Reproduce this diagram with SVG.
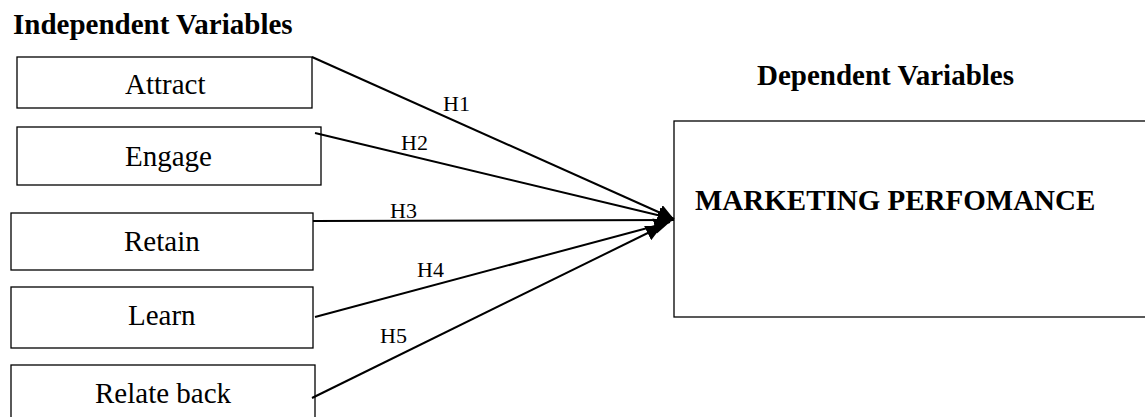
<svg xmlns="http://www.w3.org/2000/svg" width="1145" height="417" viewBox="0 0 1145 417">
<defs>
<style>
.box{fill:#fff;stroke:#000;stroke-width:1.3}
.t{font-family:"Liberation Serif","Times New Roman",serif;font-size:29px;fill:#000}
.b{font-weight:bold}
.h{font-family:"Liberation Serif","Times New Roman",serif;font-size:22px;fill:#000}
.c{stroke:#000;stroke-width:2;fill:none;marker-end:url(#ah)}
</style>
<marker id="ah" markerUnits="userSpaceOnUse" markerWidth="17" markerHeight="16" refX="16" refY="8" orient="auto">
<path d="M0,0 L16,8 L0,16 Z" fill="#000"/>
</marker>
</defs>
<rect width="1145" height="417" fill="#fff"/>
<text class="t b" x="13" y="34">Independent Variables</text>
<text class="t b" x="757" y="85">Dependent Variables</text>
<g id="attract"><rect class="box" x="17" y="57" width="295" height="51"/><text class="t" x="125" y="94">Attract</text></g>
<g id="engage"><rect class="box" x="17" y="127" width="304" height="58"/><text class="t" x="125" y="166">Engage</text></g>
<g id="retain"><rect class="box" x="11" y="213" width="302" height="57"/><text class="t" x="124" y="251">Retain</text></g>
<g id="learn"><rect class="box" x="11" y="287" width="302" height="61"/><text class="t" x="128" y="325">Learn</text></g>
<g id="relate"><rect class="box" x="11" y="365" width="304" height="60"/><text class="t" x="95" y="403">Relate back</text></g>
<g id="marketing"><rect class="box" x="674" y="121" width="480" height="196"/><text class="t b" x="695" y="210">MARKETING PERFOMANCE</text></g>
<g id="connectors">
<line class="c" x1="312" y1="57" x2="674" y2="219"/>
<line class="c" x1="315" y1="133" x2="674" y2="219"/>
<line class="c" x1="313" y1="221" x2="674" y2="220"/>
<line class="c" x1="315" y1="317" x2="670" y2="222"/>
<line class="c" x1="312" y1="398" x2="662" y2="226"/>
<text class="h" x="443" y="111">H1</text>
<text class="h" x="401" y="150">H2</text>
<text class="h" x="390" y="218">H3</text>
<text class="h" x="417" y="277">H4</text>
<text class="h" x="380" y="343">H5</text>
</g>
</svg>
